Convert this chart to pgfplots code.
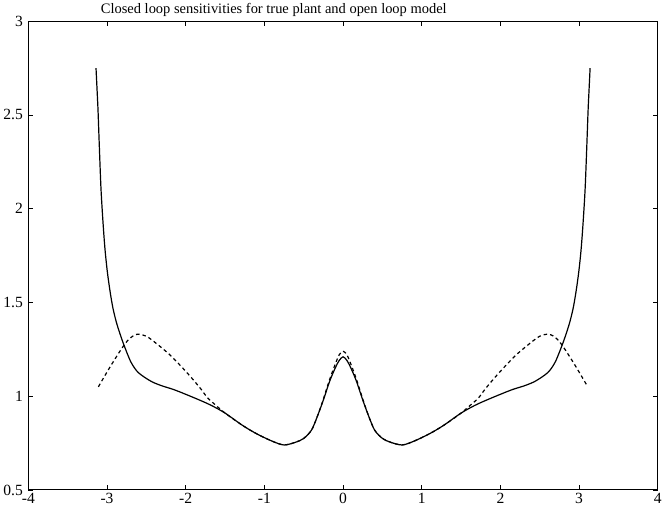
\documentclass[border=0pt]{standalone}
\usepackage{pgfplots}
\pgfplotsset{compat=1.18}
\usepackage{fontspec}
\setmainfont{Liberation Serif}
\begin{document}
\begin{tikzpicture}
\begin{axis}[
  scale only axis,
  width=627pt, height=467pt,
  xmin=-4, xmax=4, ymin=0.5, ymax=3,
  xtick={-4,-3,-2,-1,0,1,2,3,4},
  ytick={0.5,1,1.5,2,2.5,3},
  yticklabels={0.5,1,1.5,2,2.5,3},
  tick align=inside,
  major tick length=5pt,
  axis line style={line width=1pt},
  every tick/.style={black, line width=0.8pt},
  /pgf/number format/assume math mode=true,
  tick label style={font=\fontsize{15.5}{15.5}\selectfont},
  yticklabel style={xshift=-2pt},
  title={Closed loop sensitivities for true plant and open loop model},
  title style={font=\fontsize{14.4}{14.4}\selectfont, at={(0.39,1)}, yshift=-5pt},
]
\addplot[black, line width=1.2pt, smooth, tension=0.5] coordinates {
(-3.14,2.75) (-3.125,2.62) (-3.114,2.52) (-3.095,2.3) (-3.076,2.1) (-3.05,1.92)
(-3.025,1.78) (-2.995,1.66) (-2.96,1.555) (-2.925,1.47) (-2.885,1.40) (-2.845,1.345)
(-2.80,1.29) (-2.75,1.235) (-2.70,1.185) (-2.65,1.15) (-2.60,1.125) (-2.52,1.10)
(-2.42,1.075) (-2.30,1.055) (-2.15,1.035) (-1.97,1.005) (-1.80,0.975) (-1.67,0.95)
(-1.50,0.91) (-1.28,0.845) (-1.10,0.80)
(-0.90,0.76) (-0.75,0.74) (-0.60,0.755) (-0.50,0.775) (-0.40,0.82) (-0.32,0.90)
(-0.25,0.98) (-0.17,1.08) (-0.10,1.15) (-0.05,1.19) (0,1.21)
(0.05,1.19) (0.10,1.15) (0.17,1.08) (0.25,0.98) (0.32,0.90) (0.40,0.82)
(0.50,0.775) (0.60,0.755) (0.75,0.74) (0.90,0.76) (1.10,0.80) (1.28,0.845)
(1.50,0.91) (1.67,0.95) (1.80,0.975) (1.97,1.005) (2.15,1.035) (2.30,1.055)
(2.42,1.075) (2.52,1.10) (2.60,1.125) (2.65,1.15) (2.70,1.185) (2.75,1.235)
(2.80,1.29) (2.845,1.345) (2.885,1.40) (2.925,1.47) (2.96,1.555) (2.995,1.66)
(3.025,1.78) (3.05,1.92) (3.076,2.1) (3.095,2.3) (3.114,2.52) (3.125,2.62) (3.14,2.75)
};
\addplot[black, line width=1.2pt, dash pattern=on 3.5pt off 3pt, smooth, tension=0.5] coordinates {
(-3.11,1.05) (-2.97,1.15) (-2.82,1.25) (-2.72,1.305) (-2.62,1.33) (-2.50,1.32)
(-2.34,1.27) (-2.20,1.22) (-2.06,1.16) (-1.93,1.10) (-1.81,1.04) (-1.72,0.99)
(-1.64,0.96) (-1.50,0.91) (-1.28,0.845) (-1.10,0.80)
(-0.90,0.76) (-0.75,0.74) (-0.60,0.755) (-0.50,0.775) (-0.40,0.82) (-0.32,0.90)
(-0.25,0.985) (-0.17,1.09) (-0.10,1.17) (-0.05,1.22) (0,1.24)
(0.05,1.22) (0.10,1.17) (0.17,1.09) (0.25,0.985) (0.32,0.90) (0.40,0.82)
(0.50,0.775) (0.60,0.755) (0.75,0.74) (0.90,0.76) (1.10,0.80) (1.28,0.845)
(1.50,0.91) (1.64,0.96) (1.72,0.99) (1.81,1.04) (1.93,1.10) (2.06,1.16)
(2.20,1.22) (2.34,1.27) (2.50,1.32) (2.62,1.33) (2.72,1.305) (2.82,1.25)
(2.97,1.15) (3.11,1.05)
};
\end{axis}
\end{tikzpicture}
\end{document}
